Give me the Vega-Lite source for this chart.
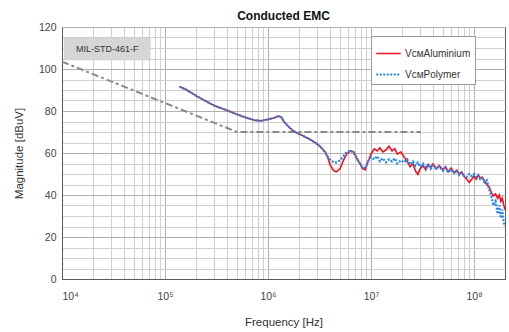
{
  "$schema": "https://vega.github.io/schema/vega-lite/v6.json",
  "width": 443,
  "height": 252,
  "autosize": {"type": "none"},
  "padding": {"left": 62, "top": 27, "right": 4, "bottom": 53},
  "title": {"text": "Conducted EMC", "fontSize": 12, "fontWeight": "bold", "font": "Liberation Sans", "color": "#111111", "offset": -1},
  "config": {
    "font": "Liberation Sans",
    "view": {"stroke": "#5a5a5a", "strokeWidth": 1}
  },
  "datasets": {
    "limit": [
      {"f": 10000, "v": 103.5},
      {"f": 500000, "v": 70},
      {"f": 30500000, "v": 70}
    ],
    "milbox": [
      {"f1": 10500, "f2": 72000, "v1": 104.3, "v2": 114.8, "label": "MIL-STD-461-F", "fc": 27500, "vc": 109.5}
    ],
    "meas": [
      {"series": "VᴄᴍAluminium", "f": 138000, "v": 91.6},
      {"series": "VᴄᴍAluminium", "f": 160000, "v": 90.2},
      {"series": "VᴄᴍAluminium", "f": 200000, "v": 87.3},
      {"series": "VᴄᴍAluminium", "f": 240000, "v": 85.1},
      {"series": "VᴄᴍAluminium", "f": 300000, "v": 82.6},
      {"series": "VᴄᴍAluminium", "f": 400000, "v": 80.3},
      {"series": "VᴄᴍAluminium", "f": 500000, "v": 78.4},
      {"series": "VᴄᴍAluminium", "f": 630000, "v": 76.6},
      {"series": "VᴄᴍAluminium", "f": 750000, "v": 75.6},
      {"series": "VᴄᴍAluminium", "f": 850000, "v": 75.3},
      {"series": "VᴄᴍAluminium", "f": 1000000, "v": 76.0},
      {"series": "VᴄᴍAluminium", "f": 1150000, "v": 76.8},
      {"series": "VᴄᴍAluminium", "f": 1270000, "v": 77.6},
      {"series": "VᴄᴍAluminium", "f": 1350000, "v": 77.0},
      {"series": "VᴄᴍAluminium", "f": 1450000, "v": 74.5},
      {"series": "VᴄᴍAluminium", "f": 1600000, "v": 72.3},
      {"series": "VᴄᴍAluminium", "f": 1750000, "v": 70.6},
      {"series": "VᴄᴍAluminium", "f": 1900000, "v": 69.6},
      {"series": "VᴄᴍAluminium", "f": 2100000, "v": 68.6},
      {"series": "VᴄᴍAluminium", "f": 2400000, "v": 67.2},
      {"series": "VᴄᴍAluminium", "f": 2700000, "v": 65.8},
      {"series": "VᴄᴍAluminium", "f": 3000000, "v": 64.3},
      {"series": "VᴄᴍAluminium", "f": 3300000, "v": 62.5},
      {"series": "VᴄᴍAluminium", "f": 3600000, "v": 60.5},
      {"series": "VᴄᴍAluminium", "f": 3800000, "v": 58.0},
      {"series": "VᴄᴍAluminium", "f": 4000000, "v": 54.5},
      {"series": "VᴄᴍAluminium", "f": 4300000, "v": 51.8},
      {"series": "VᴄᴍAluminium", "f": 4600000, "v": 51.0},
      {"series": "VᴄᴍAluminium", "f": 5000000, "v": 52.5},
      {"series": "VᴄᴍAluminium", "f": 5400000, "v": 56.5},
      {"series": "VᴄᴍAluminium", "f": 5800000, "v": 59.5},
      {"series": "VᴄᴍAluminium", "f": 6300000, "v": 61.0},
      {"series": "VᴄᴍAluminium", "f": 6800000, "v": 60.5},
      {"series": "VᴄᴍAluminium", "f": 7300000, "v": 57.5},
      {"series": "VᴄᴍAluminium", "f": 7800000, "v": 55.0},
      {"series": "VᴄᴍAluminium", "f": 8300000, "v": 52.5},
      {"series": "VᴄᴍAluminium", "f": 8800000, "v": 52.0},
      {"series": "VᴄᴍAluminium", "f": 9300000, "v": 55.5},
      {"series": "VᴄᴍAluminium", "f": 10000000, "v": 59.5},
      {"series": "VᴄᴍAluminium", "f": 10800000, "v": 62.0},
      {"series": "VᴄᴍAluminium", "f": 11500000, "v": 61.0},
      {"series": "VᴄᴍAluminium", "f": 12200000, "v": 62.5},
      {"series": "VᴄᴍAluminium", "f": 13000000, "v": 60.5},
      {"series": "VᴄᴍAluminium", "f": 14000000, "v": 61.5},
      {"series": "VᴄᴍAluminium", "f": 15000000, "v": 63.2},
      {"series": "VᴄᴍAluminium", "f": 16000000, "v": 61.0},
      {"series": "VᴄᴍAluminium", "f": 17000000, "v": 62.0},
      {"series": "VᴄᴍAluminium", "f": 18000000, "v": 59.5},
      {"series": "VᴄᴍAluminium", "f": 19500000, "v": 60.5},
      {"series": "VᴄᴍAluminium", "f": 21000000, "v": 58.0},
      {"series": "VᴄᴍAluminium", "f": 22500000, "v": 56.0},
      {"series": "VᴄᴍAluminium", "f": 24000000, "v": 53.5},
      {"series": "VᴄᴍAluminium", "f": 25500000, "v": 55.0},
      {"series": "VᴄᴍAluminium", "f": 27000000, "v": 51.5},
      {"series": "VᴄᴍAluminium", "f": 28500000, "v": 49.8},
      {"series": "VᴄᴍAluminium", "f": 30000000, "v": 52.5},
      {"series": "VᴄᴍAluminium", "f": 32000000, "v": 54.0},
      {"series": "VᴄᴍAluminium", "f": 34000000, "v": 52.0},
      {"series": "VᴄᴍAluminium", "f": 36000000, "v": 54.5},
      {"series": "VᴄᴍAluminium", "f": 38000000, "v": 53.0},
      {"series": "VᴄᴍAluminium", "f": 40000000, "v": 54.8},
      {"series": "VᴄᴍAluminium", "f": 43000000, "v": 52.5},
      {"series": "VᴄᴍAluminium", "f": 46000000, "v": 54.0},
      {"series": "VᴄᴍAluminium", "f": 50000000, "v": 52.0},
      {"series": "VᴄᴍAluminium", "f": 53000000, "v": 53.5},
      {"series": "VᴄᴍAluminium", "f": 56000000, "v": 51.0},
      {"series": "VᴄᴍAluminium", "f": 60000000, "v": 52.8},
      {"series": "VᴄᴍAluminium", "f": 64000000, "v": 50.5},
      {"series": "VᴄᴍAluminium", "f": 68000000, "v": 51.8},
      {"series": "VᴄᴍAluminium", "f": 72000000, "v": 50.0},
      {"series": "VᴄᴍAluminium", "f": 76000000, "v": 51.0},
      {"series": "VᴄᴍAluminium", "f": 80000000, "v": 49.0},
      {"series": "VᴄᴍAluminium", "f": 85000000, "v": 47.5},
      {"series": "VᴄᴍAluminium", "f": 90000000, "v": 46.0},
      {"series": "VᴄᴍAluminium", "f": 95000000, "v": 47.5},
      {"series": "VᴄᴍAluminium", "f": 100000000, "v": 49.0},
      {"series": "VᴄᴍAluminium", "f": 105000000, "v": 47.5},
      {"series": "VᴄᴍAluminium", "f": 110000000, "v": 49.5},
      {"series": "VᴄᴍAluminium", "f": 115000000, "v": 48.0},
      {"series": "VᴄᴍAluminium", "f": 120000000, "v": 48.5},
      {"series": "VᴄᴍAluminium", "f": 127000000, "v": 46.5},
      {"series": "VᴄᴍAluminium", "f": 133000000, "v": 45.0},
      {"series": "VᴄᴍAluminium", "f": 140000000, "v": 44.0},
      {"series": "VᴄᴍAluminium", "f": 148000000, "v": 41.0},
      {"series": "VᴄᴍAluminium", "f": 155000000, "v": 39.5},
      {"series": "VᴄᴍAluminium", "f": 162000000, "v": 40.5},
      {"series": "VᴄᴍAluminium", "f": 170000000, "v": 38.5},
      {"series": "VᴄᴍAluminium", "f": 176000000, "v": 40.0},
      {"series": "VᴄᴍAluminium", "f": 182000000, "v": 37.0},
      {"series": "VᴄᴍAluminium", "f": 188000000, "v": 38.5},
      {"series": "VᴄᴍAluminium", "f": 194000000, "v": 35.5},
      {"series": "VᴄᴍAluminium", "f": 200000000, "v": 33.0},
      {"series": "VᴄᴍPolymer", "f": 138000, "v": 91.6},
      {"series": "VᴄᴍPolymer", "f": 160000, "v": 90.2},
      {"series": "VᴄᴍPolymer", "f": 200000, "v": 87.3},
      {"series": "VᴄᴍPolymer", "f": 240000, "v": 85.1},
      {"series": "VᴄᴍPolymer", "f": 300000, "v": 82.6},
      {"series": "VᴄᴍPolymer", "f": 400000, "v": 80.3},
      {"series": "VᴄᴍPolymer", "f": 500000, "v": 78.4},
      {"series": "VᴄᴍPolymer", "f": 630000, "v": 76.6},
      {"series": "VᴄᴍPolymer", "f": 750000, "v": 75.6},
      {"series": "VᴄᴍPolymer", "f": 850000, "v": 75.3},
      {"series": "VᴄᴍPolymer", "f": 1000000, "v": 76.0},
      {"series": "VᴄᴍPolymer", "f": 1150000, "v": 76.8},
      {"series": "VᴄᴍPolymer", "f": 1270000, "v": 77.6},
      {"series": "VᴄᴍPolymer", "f": 1350000, "v": 77.0},
      {"series": "VᴄᴍPolymer", "f": 1450000, "v": 74.5},
      {"series": "VᴄᴍPolymer", "f": 1600000, "v": 72.3},
      {"series": "VᴄᴍPolymer", "f": 1750000, "v": 70.6},
      {"series": "VᴄᴍPolymer", "f": 1900000, "v": 69.6},
      {"series": "VᴄᴍPolymer", "f": 2100000, "v": 68.6},
      {"series": "VᴄᴍPolymer", "f": 2400000, "v": 67.2},
      {"series": "VᴄᴍPolymer", "f": 2700000, "v": 65.8},
      {"series": "VᴄᴍPolymer", "f": 3000000, "v": 64.3},
      {"series": "VᴄᴍPolymer", "f": 3300000, "v": 62.5},
      {"series": "VᴄᴍPolymer", "f": 3600000, "v": 60.0},
      {"series": "VᴄᴍPolymer", "f": 3900000, "v": 57.5},
      {"series": "VᴄᴍPolymer", "f": 4200000, "v": 56.0},
      {"series": "VᴄᴍPolymer", "f": 4600000, "v": 55.5},
      {"series": "VᴄᴍPolymer", "f": 5000000, "v": 56.5},
      {"series": "VᴄᴍPolymer", "f": 5400000, "v": 58.5},
      {"series": "VᴄᴍPolymer", "f": 5800000, "v": 60.5},
      {"series": "VᴄᴍPolymer", "f": 6300000, "v": 61.2},
      {"series": "VᴄᴍPolymer", "f": 6800000, "v": 60.0},
      {"series": "VᴄᴍPolymer", "f": 7300000, "v": 57.0},
      {"series": "VᴄᴍPolymer", "f": 7800000, "v": 55.0},
      {"series": "VᴄᴍPolymer", "f": 8300000, "v": 53.0},
      {"series": "VᴄᴍPolymer", "f": 8800000, "v": 52.5},
      {"series": "VᴄᴍPolymer", "f": 9300000, "v": 56.0},
      {"series": "VᴄᴍPolymer", "f": 10000000, "v": 58.0},
      {"series": "VᴄᴍPolymer", "f": 10800000, "v": 57.0},
      {"series": "VᴄᴍPolymer", "f": 11500000, "v": 58.5},
      {"series": "VᴄᴍPolymer", "f": 12200000, "v": 56.0},
      {"series": "VᴄᴍPolymer", "f": 13000000, "v": 57.5},
      {"series": "VᴄᴍPolymer", "f": 14000000, "v": 55.5},
      {"series": "VᴄᴍPolymer", "f": 15000000, "v": 57.0},
      {"series": "VᴄᴍPolymer", "f": 16000000, "v": 56.0},
      {"series": "VᴄᴍPolymer", "f": 17000000, "v": 57.5},
      {"series": "VᴄᴍPolymer", "f": 18000000, "v": 55.0},
      {"series": "VᴄᴍPolymer", "f": 19500000, "v": 56.5},
      {"series": "VᴄᴍPolymer", "f": 21000000, "v": 55.5},
      {"series": "VᴄᴍPolymer", "f": 22500000, "v": 57.0},
      {"series": "VᴄᴍPolymer", "f": 24000000, "v": 54.5},
      {"series": "VᴄᴍPolymer", "f": 25500000, "v": 56.0},
      {"series": "VᴄᴍPolymer", "f": 27000000, "v": 54.0},
      {"series": "VᴄᴍPolymer", "f": 28500000, "v": 55.5},
      {"series": "VᴄᴍPolymer", "f": 30000000, "v": 53.5},
      {"series": "VᴄᴍPolymer", "f": 32000000, "v": 55.0},
      {"series": "VᴄᴍPolymer", "f": 34000000, "v": 53.0},
      {"series": "VᴄᴍPolymer", "f": 36000000, "v": 54.5},
      {"series": "VᴄᴍPolymer", "f": 38000000, "v": 52.5},
      {"series": "VᴄᴍPolymer", "f": 40000000, "v": 54.0},
      {"series": "VᴄᴍPolymer", "f": 43000000, "v": 52.5},
      {"series": "VᴄᴍPolymer", "f": 46000000, "v": 53.5},
      {"series": "VᴄᴍPolymer", "f": 50000000, "v": 51.5},
      {"series": "VᴄᴍPolymer", "f": 53000000, "v": 53.0},
      {"series": "VᴄᴍPolymer", "f": 56000000, "v": 51.0},
      {"series": "VᴄᴍPolymer", "f": 60000000, "v": 52.0},
      {"series": "VᴄᴍPolymer", "f": 64000000, "v": 50.5},
      {"series": "VᴄᴍPolymer", "f": 68000000, "v": 51.5},
      {"series": "VᴄᴍPolymer", "f": 72000000, "v": 49.5},
      {"series": "VᴄᴍPolymer", "f": 76000000, "v": 50.5},
      {"series": "VᴄᴍPolymer", "f": 80000000, "v": 49.0},
      {"series": "VᴄᴍPolymer", "f": 85000000, "v": 48.5},
      {"series": "VᴄᴍPolymer", "f": 90000000, "v": 50.0},
      {"series": "VᴄᴍPolymer", "f": 95000000, "v": 49.0},
      {"series": "VᴄᴍPolymer", "f": 100000000, "v": 50.0},
      {"series": "VᴄᴍPolymer", "f": 105000000, "v": 48.5},
      {"series": "VᴄᴍPolymer", "f": 110000000, "v": 49.5},
      {"series": "VᴄᴍPolymer", "f": 115000000, "v": 47.5},
      {"series": "VᴄᴍPolymer", "f": 120000000, "v": 48.0},
      {"series": "VᴄᴍPolymer", "f": 127000000, "v": 46.0},
      {"series": "VᴄᴍPolymer", "f": 133000000, "v": 47.0},
      {"series": "VᴄᴍPolymer", "f": 140000000, "v": 43.0},
      {"series": "VᴄᴍPolymer", "f": 148000000, "v": 39.0},
      {"series": "VᴄᴍPolymer", "f": 155000000, "v": 35.0},
      {"series": "VᴄᴍPolymer", "f": 162000000, "v": 37.0},
      {"series": "VᴄᴍPolymer", "f": 170000000, "v": 31.0},
      {"series": "VᴄᴍPolymer", "f": 176000000, "v": 35.0},
      {"series": "VᴄᴍPolymer", "f": 182000000, "v": 29.0},
      {"series": "VᴄᴍPolymer", "f": 188000000, "v": 33.0},
      {"series": "VᴄᴍPolymer", "f": 194000000, "v": 27.0},
      {"series": "VᴄᴍPolymer", "f": 200000000, "v": 25.0}
    ]
  },
  "resolve": {"axis": {"x": "independent", "y": "independent"}},
  "layer": [
    {
      "data": {"name": "limit"},
      "mark": {"type": "line", "color": "#8a8a8a", "strokeWidth": 2, "strokeDash": [7, 3, 3, 3]},
      "encoding": {
        "x": {
          "field": "f", "type": "quantitative",
          "scale": {"type": "log", "domain": [10000, 200000000], "nice": false},
          "axis": {
            "orient": "bottom", "title": null, "labels": false, "ticks": false, "domain": false,
            "grid": true, "gridColor": "#cfcfcf", "gridWidth": 1,
            "values": [20000, 30000, 40000, 50000, 60000, 70000, 80000, 90000, 200000, 300000, 400000, 500000, 600000, 700000, 800000, 900000, 2000000, 3000000, 4000000, 5000000, 6000000, 7000000, 8000000, 9000000, 20000000, 30000000, 40000000, 50000000, 60000000, 70000000, 80000000, 90000000]
          }
        },
        "y": {
          "field": "v", "type": "quantitative",
          "scale": {"domain": [0, 120], "nice": false},
          "axis": {
            "orient": "left", "title": null, "labels": false, "ticks": false, "domain": false,
            "grid": true, "gridColor": "#cfcfcf", "gridWidth": 1,
            "values": [5, 10, 15, 25, 30, 35, 45, 50, 55, 65, 70, 75, 85, 90, 95, 105, 110, 115]
          }
        }
      }
    },
    {
      "data": {"name": "meas"},
      "mark": {"type": "line"},
      "encoding": {
        "x": {
          "field": "f", "type": "quantitative",
          "axis": {
            "orient": "bottom", "title": "Frequency [Hz]", "titleFontSize": 11.5, "titleFontWeight": "normal", "titleColor": "#333333", "titlePadding": 15,
            "values": [10000, 100000, 1000000, 10000000, 100000000],
            "labelExpr": "datum.value == 10000 ? '10⁴' : datum.value == 100000 ? '10⁵' : datum.value == 1000000 ? '10⁶' : datum.value == 10000000 ? '10⁷' : '10⁸'",
            "labelFontSize": 10.5, "labelColor": "#444444", "labelPadding": 12,
            "ticks": false, "domain": true, "domainColor": "#5a5a5a",
            "grid": true, "gridColor": "#b0b0b0", "gridWidth": 1
          }
        },
        "y": {
          "field": "v", "type": "quantitative",
          "axis": {
            "orient": "left", "title": "Magnitude [dBuV]", "titleFontSize": 11.5, "titleFontWeight": "normal", "titleColor": "#333333", "titlePadding": 14,
            "values": [0, 20, 40, 60, 80, 100, 120],
            "labelFontSize": 10.5, "labelColor": "#444444", "labelPadding": 6,
            "ticks": false, "domain": true, "domainColor": "#5a5a5a",
            "grid": true, "gridColor": "#b0b0b0", "gridWidth": 1
          }
        },
        "color": {
          "field": "series", "type": "nominal",
          "scale": {"domain": ["VᴄᴍAluminium", "VᴄᴍPolymer"], "range": ["#f01020", "#2288ee"]},
          "legend": {
            "orient": "none", "legendX": 309, "legendY": 9, "title": null,
            "fillColor": "#ffffff", "strokeColor": "#9a9a9a", "padding": 4,
            "symbolType": "stroke", "symbolSize": 600, "symbolStrokeWidth": 2,
            "labelFontSize": 10, "labelColor": "#333333", "labelOffset": 3, "rowPadding": 2
          }
        },
        "strokeDash": {
          "field": "series", "type": "nominal",
          "scale": {"domain": ["VᴄᴍAluminium", "VᴄᴍPolymer"], "range": [[1, 0], [2, 1.5]]},
          "legend": null
        },
        "strokeWidth": {
          "field": "series", "type": "nominal",
          "scale": {"domain": ["VᴄᴍAluminium", "VᴄᴍPolymer"], "range": [1.6, 2.2]},
          "legend": null
        }
      }
    },
    {
      "data": {"name": "milbox"},
      "mark": {"type": "rect", "fill": "#d6d6d6", "stroke": "#c8c8c8", "strokeWidth": 0.5},
      "encoding": {
        "x": {"field": "f1", "type": "quantitative", "axis": null},
        "x2": {"field": "f2"},
        "y": {"field": "v1", "type": "quantitative", "axis": null},
        "y2": {"field": "v2"}
      }
    },
    {
      "data": {"name": "milbox"},
      "mark": {"type": "text", "fontSize": 9, "color": "#333333", "align": "center", "baseline": "middle"},
      "encoding": {
        "x": {"field": "fc", "type": "quantitative", "axis": null},
        "y": {"field": "vc", "type": "quantitative", "axis": null},
        "text": {"field": "label"}
      }
    }
  ]
}
